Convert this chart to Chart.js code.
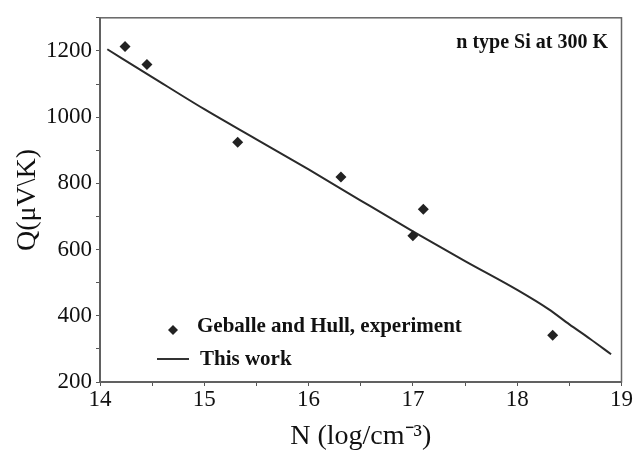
<!DOCTYPE html>
<html>
<head>
<meta charset="utf-8">
<script src="https://cdn.jsdelivr.net/npm/chart.js@4.4.1/dist/chart.umd.min.js"></script>
<style>
  html, body { margin: 0; padding: 0; background: #fff; }
  #wrap { width: 633px; height: 453px; }
</style>
</head>
<body>
<div id="wrap"><canvas id="seebeckChart" width="633" height="453"></canvas></div>
<script>
// Experimental points (Geballe and Hull)
const expN = [14.24, 14.45, 15.32, 16.31, 17.00, 17.10, 18.34];
const expQ = [1213, 1159, 924, 819, 642, 722, 341];

// Calculated curve (this work)
const calcN = [14.07, 14.5, 15.0, 15.5, 16.0, 16.5, 17.0, 17.5, 18.0, 18.3, 18.5, 18.7, 18.9];
const calcQ = [1205, 1121, 1024, 933, 842, 748, 655, 565, 478, 420, 374, 330, 284];

const serif = "'Liberation Serif', 'Times New Roman', serif";

// box, note and legend drawn on top of the chart
const extras = {
  id: 'extras',
  afterDraw(chart) {
    const { ctx, chartArea: a } = chart;
    ctx.save();
    ctx.strokeStyle = '#666';
    ctx.lineWidth = 1.5;
    ctx.strokeRect(a.left, a.top, a.right - a.left, a.bottom - a.top);

    ctx.fillStyle = '#111';
    ctx.font = 'bold 20px ' + serif;
    ctx.textAlign = 'right';
    ctx.textBaseline = 'middle';
    ctx.fillText('n type Si at 300 K', 608, 43);

    // legend
    ctx.textAlign = 'left';
    ctx.font = 'bold 21px ' + serif;
    ctx.fillStyle = '#222';
    ctx.beginPath();
    ctx.moveTo(173, 325); ctx.lineTo(178, 330); ctx.lineTo(173, 335); ctx.lineTo(168, 330);
    ctx.closePath();
    ctx.fill();
    ctx.fillStyle = '#111';
    ctx.fillText(chart.data.datasets[0].label, 197, 327);
    ctx.strokeStyle = '#333';
    ctx.lineWidth = 2;
    ctx.beginPath();
    ctx.moveTo(157, 359); ctx.lineTo(189, 359);
    ctx.stroke();
    ctx.fillText(chart.data.datasets[1].label, 200, 360);
    ctx.restore();
  }
};

new Chart(document.getElementById('seebeckChart'), {
  type: 'scatter',
  data: {
    datasets: [{
      label: 'Geballe and Hull, experiment',
      data: expN.map((n, i) => ({ x: n, y: expQ[i] })),
      pointStyle: 'rectRot',
      pointRadius: 5.5,
      backgroundColor: '#222',
      borderColor: '#222',
      borderWidth: 0
    }, {
      label: 'This work',
      type: 'line',
      data: calcN.map((n, i) => ({ x: n, y: calcQ[i] })),
      borderColor: '#2a2a2a',
      borderWidth: 2,
      pointRadius: 0,
      cubicInterpolationMode: 'monotone',
      fill: false
    }]
  },
  options: {
    responsive: false,
    animation: false,
    layout: { padding: { top: 16, right: 8, left: 0, bottom: 0 } },
    plugins: { legend: { display: false }, tooltip: { enabled: false } },
    scales: {
      x: {
        type: 'linear',
        min: 14, max: 19,
        afterFit(s) { s.height = 71; },
        border: { color: '#555', width: 2 },
        grid: { drawOnChartArea: false, tickLength: 4, color: '#555' },
        ticks: {
          stepSize: 0.5,
          padding: 0,
          color: '#111',
          font: { family: serif, size: 23 },
          maxRotation: 0,
          autoSkip: false,
          callback: v => Number.isInteger(v) ? v : ''
        },
        title: {
          display: true,
          text: 'N (log/cm⁻³)',
          color: '#111',
          font: { family: serif, size: 28 },
          padding: { top: 0, bottom: 0 }
        }
      },
      y: {
        type: 'linear',
        min: 200, max: 1300,
        afterFit(s) { s.width = 100; },
        border: { color: '#555', width: 2 },
        grid: { drawOnChartArea: false, tickLength: 4, color: '#555' },
        ticks: {
          stepSize: 100,
          padding: 4,
          color: '#111',
          font: { family: serif, size: 23 },
          autoSkip: false,
          callback: v => (v % 200 === 0 && v < 1300) ? v : ''
        },
        title: {
          display: true,
          text: 'Q(μV\\K)',
          color: '#111',
          font: { family: serif, size: 28 },
          padding: { top: 11, bottom: 0 }
        }
      }
    }
  },
  plugins: [extras]
});
</script>
</body>
</html>
